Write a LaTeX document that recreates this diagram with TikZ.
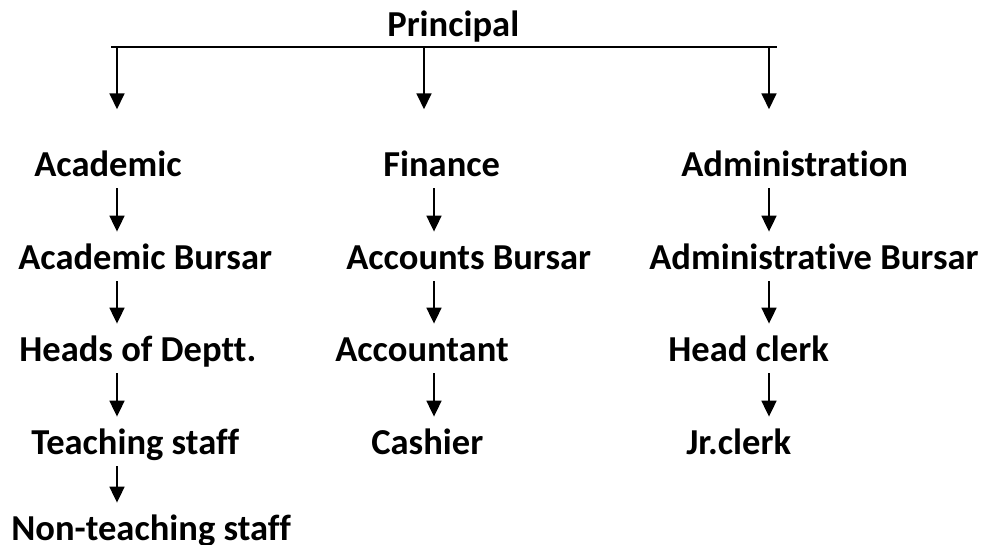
\documentclass[tikz,border=0pt]{standalone}
\usepackage{fontspec}
\setmainfont{Carlito}[Ligatures={NoCommon}]
\usetikzlibrary{positioning,arrows.meta}

\begin{document}
\begin{tikzpicture}[x=0.75pt,y=-0.75pt,line width=2pt,
        >={Triangle[length=12pt,width=11pt]},
        post/.style={font=\fontsize{27.4}{30}\selectfont\bfseries, inner sep=0pt,
          text height=17pt, text depth=0pt, anchor=base west},
        down/.style={->, shorten <=8pt, shorten >=10pt}]
\useasboundingbox (0,0) rectangle (986,544);

% arrow columns
\coordinate (c1) at (117,0);
\coordinate (c2) at (434,0);
\coordinate (c3) at (769,0);
\coordinate (t2) at (424,0);

\node[post] (prin) at (386,36) {Principal};
\coordinate (bl) at (111,47);
\coordinate (br) at (777,47);

\node[post] (acad) at (33,176)  {Academic};
\node[post] (fin)  at (382,176) {Finance};
\node[post] (adm)  at (680,176) {Administration};

\node[post] (abur) at (17,269)  {Academic Bursar};
\node[post] (cbur) at (345,269) {Accounts Bursar};
\node[post] (dbur) at (648,269) {Administrative Bursar};

\node[post] (hod)  at (18,361)  {Heads of Deptt.};
\node[post] (acct) at (334,361) {Accountant};
\node[post] (hcl)  at (667,361) {Head clerk};

\node[post] (tst)  at (30,454)  {Teaching staff};
\node[post] (cash) at (370,454) {Cashier};
\node[post] (jcl)  at (685,454) {Jr.clerk};

\node[post] (nts)  at (10,540)  {Non-teaching staff};

\draw (bl) -- (br);
\draw[->] (bl -| c1) -- ([yshift=32pt]acad.north -| c1);
\draw[->] (bl -| t2) -- ([yshift=32pt]fin.north -| t2);
\draw[->] (bl -| c3) -- ([yshift=32pt]adm.north -| c3);

\draw[down] (acad.south -| c1) -- (abur.north -| c1);
\draw[down] (abur.south -| c1) -- (hod.north -| c1);
\draw[down] (hod.south -| c1) -- (tst.north -| c1);
\draw[down] (tst.south -| c1) -- (nts.north -| c1);

\draw[down] (fin.south -| c2) -- (cbur.north -| c2);
\draw[down] (cbur.south -| c2) -- (acct.north -| c2);
\draw[down] (acct.south -| c2) -- (cash.north -| c2);

\draw[down] (adm.south -| c3) -- (dbur.north -| c3);
\draw[down] (dbur.south -| c3) -- (hcl.north -| c3);
\draw[down] (hcl.south -| c3) -- (jcl.north -| c3);
\end{tikzpicture}
\end{document}
